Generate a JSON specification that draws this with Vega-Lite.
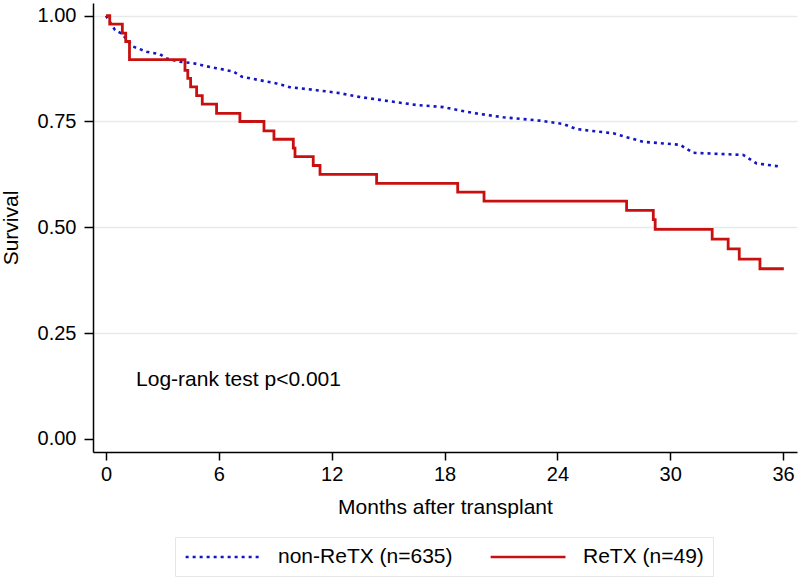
{
  "$schema": "https://vega.github.io/schema/vega-lite/v6.json",
  "width": 704,
  "height": 449,
  "autosize": {"type": "none"},
  "padding": {"left": 93, "top": 3, "right": 3, "bottom": 128},
  "background": "white",
  "datasets": {
    "km": [
      {"group": "non-ReTX (n=635)", "month": 0, "survival": 1.0},
      {"group": "non-ReTX (n=635)", "month": 0.48, "survival": 0.966},
      {"group": "non-ReTX (n=635)", "month": 0.83, "survival": 0.958},
      {"group": "non-ReTX (n=635)", "month": 1.19, "survival": 0.939},
      {"group": "non-ReTX (n=635)", "month": 1.45, "survival": 0.927},
      {"group": "non-ReTX (n=635)", "month": 2.16, "survival": 0.915},
      {"group": "non-ReTX (n=635)", "month": 2.87, "survival": 0.909},
      {"group": "non-ReTX (n=635)", "month": 3.23, "survival": 0.899},
      {"group": "non-ReTX (n=635)", "month": 3.93, "survival": 0.891},
      {"group": "non-ReTX (n=635)", "month": 4.64, "survival": 0.888},
      {"group": "non-ReTX (n=635)", "month": 5.17, "survival": 0.882},
      {"group": "non-ReTX (n=635)", "month": 5.88, "survival": 0.876},
      {"group": "non-ReTX (n=635)", "month": 6.77, "survival": 0.868},
      {"group": "non-ReTX (n=635)", "month": 7.21, "survival": 0.856},
      {"group": "non-ReTX (n=635)", "month": 8.36, "survival": 0.846},
      {"group": "non-ReTX (n=635)", "month": 9.07, "survival": 0.840},
      {"group": "non-ReTX (n=635)", "month": 9.78, "survival": 0.831},
      {"group": "non-ReTX (n=635)", "month": 11.2, "survival": 0.824},
      {"group": "non-ReTX (n=635)", "month": 12.44, "survival": 0.817},
      {"group": "non-ReTX (n=635)", "month": 13.33, "survival": 0.809},
      {"group": "non-ReTX (n=635)", "month": 14.57, "survival": 0.801},
      {"group": "non-ReTX (n=635)", "month": 16.52, "survival": 0.789},
      {"group": "non-ReTX (n=635)", "month": 17.93, "survival": 0.784},
      {"group": "non-ReTX (n=635)", "month": 18.82, "survival": 0.776},
      {"group": "non-ReTX (n=635)", "month": 19.71, "survival": 0.769},
      {"group": "non-ReTX (n=635)", "month": 21.12, "survival": 0.760},
      {"group": "non-ReTX (n=635)", "month": 23.07, "survival": 0.752},
      {"group": "non-ReTX (n=635)", "month": 24.31, "survival": 0.744},
      {"group": "non-ReTX (n=635)", "month": 25.02, "survival": 0.732},
      {"group": "non-ReTX (n=635)", "month": 26.97, "survival": 0.722},
      {"group": "non-ReTX (n=635)", "month": 27.68, "survival": 0.713},
      {"group": "non-ReTX (n=635)", "month": 28.57, "survival": 0.702},
      {"group": "non-ReTX (n=635)", "month": 30.52, "survival": 0.695},
      {"group": "non-ReTX (n=635)", "month": 31.22, "survival": 0.676},
      {"group": "non-ReTX (n=635)", "month": 33.88, "survival": 0.671},
      {"group": "non-ReTX (n=635)", "month": 34.59, "survival": 0.651},
      {"group": "non-ReTX (n=635)", "month": 35.92, "survival": 0.643},
      {"group": "ReTX (n=49)", "month": 0, "survival": 1.0},
      {"group": "ReTX (n=49)", "month": 0.2, "survival": 0.980},
      {"group": "ReTX (n=49)", "month": 0.87, "survival": 0.959},
      {"group": "ReTX (n=49)", "month": 1.05, "survival": 0.939},
      {"group": "ReTX (n=49)", "month": 1.25, "survival": 0.896},
      {"group": "ReTX (n=49)", "month": 4.2, "survival": 0.871},
      {"group": "ReTX (n=49)", "month": 4.35, "survival": 0.852},
      {"group": "ReTX (n=49)", "month": 4.5, "survival": 0.832},
      {"group": "ReTX (n=49)", "month": 4.82, "survival": 0.811},
      {"group": "ReTX (n=49)", "month": 5.12, "survival": 0.791},
      {"group": "ReTX (n=49)", "month": 5.88, "survival": 0.769},
      {"group": "ReTX (n=49)", "month": 7.12, "survival": 0.750},
      {"group": "ReTX (n=49)", "month": 8.40, "survival": 0.728},
      {"group": "ReTX (n=49)", "month": 8.93, "survival": 0.708},
      {"group": "ReTX (n=49)", "month": 9.96, "survival": 0.687},
      {"group": "ReTX (n=49)", "month": 10.05, "survival": 0.667},
      {"group": "ReTX (n=49)", "month": 11.02, "survival": 0.646},
      {"group": "ReTX (n=49)", "month": 11.38, "survival": 0.625},
      {"group": "ReTX (n=49)", "month": 14.39, "survival": 0.604},
      {"group": "ReTX (n=49)", "month": 18.7, "survival": 0.583},
      {"group": "ReTX (n=49)", "month": 20.1, "survival": 0.562},
      {"group": "ReTX (n=49)", "month": 27.68, "survival": 0.540},
      {"group": "ReTX (n=49)", "month": 29.1, "survival": 0.518},
      {"group": "ReTX (n=49)", "month": 29.2, "survival": 0.495},
      {"group": "ReTX (n=49)", "month": 32.23, "survival": 0.472},
      {"group": "ReTX (n=49)", "month": 33.08, "survival": 0.449},
      {"group": "ReTX (n=49)", "month": 33.67, "survival": 0.425},
      {"group": "ReTX (n=49)", "month": 34.77, "survival": 0.402},
      {"group": "ReTX (n=49)", "month": 36.04, "survival": 0.402}
    ],
    "note": [
      {"month": 1.6, "survival": 0.138, "label": "Log-rank test p<0.001"}
    ]
  },
  "config": {
    "view": {"stroke": null},
    "font": "Liberation Sans",
    "axis": {
      "domainColor": "#000000",
      "domainWidth": 1.5,
      "tickColor": "#000000",
      "tickWidth": 1.5,
      "labelColor": "#000000",
      "titleColor": "#000000",
      "labelFont": "Liberation Sans",
      "titleFont": "Liberation Sans",
      "labelFontSize": 20,
      "titleFontSize": 21,
      "titleFontWeight": "normal"
    },
    "legend": {
      "labelFont": "Liberation Sans",
      "labelFontSize": 21,
      "labelColor": "#000000",
      "labelLimit": 400
    }
  },
  "encoding": {
    "x": {
      "field": "month",
      "type": "quantitative",
      "scale": {"domain": [-0.69, 36.74], "nice": false, "zero": false},
      "axis": {
        "values": [0, 6, 12, 18, 24, 30, 36],
        "format": "d",
        "title": "Months after transplant",
        "tickSize": 8,
        "labelPadding": 4,
        "titlePadding": 12,
        "grid": false,
        "labelFlush": false
      }
    },
    "y": {
      "field": "survival",
      "type": "quantitative",
      "scale": {"domain": [-0.031, 1.03], "nice": false, "zero": false},
      "axis": {
        "values": [0, 0.25, 0.5, 0.75, 1],
        "format": ".2f",
        "title": "Survival",
        "tickSize": 9,
        "labelPadding": 8,
        "titlePadding": 16,
        "grid": true,
        "gridColor": "#e6eaec",
        "gridWidth": 1.5,
        "gridOpacity": {"condition": {"test": "datum.value === 0", "value": 0}, "value": 1},
        "labelFlush": false
      }
    }
  },
  "layer": [
    {
      "data": {"name": "km"},
      "transform": [{"filter": "datum.group === 'non-ReTX (n=635)'"}],
      "mark": {"type": "line", "strokeWidth": 2.6, "interpolate": "linear", "strokeCap": "butt"},
      "encoding": {
        "color": {
          "field": "group",
          "type": "nominal",
          "scale": {"domain": ["non-ReTX (n=635)", "ReTX (n=49)"], "range": ["#1515c8", "#c81010"]},
          "legend": {
            "title": null,
            "orient": "none",
            "legendX": 82,
            "legendY": 534,
            "direction": "horizontal",
            "strokeColor": "#e3e7e9",
            "padding": 9,
            "symbolType": "M-1,0H7",
            "symbolSize": 350,
            "symbolStrokeWidth": 2.6,
            "labelOffset": 72,
            "labelLimit": 400,
            "columnPadding": 32
          }
        },
        "strokeDash": {
          "field": "group",
          "type": "nominal",
          "scale": {"domain": ["non-ReTX (n=635)", "ReTX (n=49)"], "range": [[3, 4], [1, 0]]},
          "legend": {
            "title": null,
            "orient": "none",
            "legendX": 82,
            "legendY": 534,
            "direction": "horizontal",
            "strokeColor": "#e3e7e9",
            "padding": 9,
            "symbolType": "M-1,0H7",
            "symbolSize": 350,
            "symbolStrokeWidth": 2.6,
            "labelOffset": 72,
            "labelLimit": 400,
            "columnPadding": 32
          }
        }
      }
    },
    {
      "data": {"name": "km"},
      "transform": [{"filter": "datum.group === 'ReTX (n=49)'"}],
      "mark": {"type": "line", "strokeWidth": 2.8, "interpolate": "step-after"},
      "encoding": {
        "color": {"field": "group", "type": "nominal"},
        "strokeDash": {"field": "group", "type": "nominal"}
      }
    },
    {
      "data": {"name": "note"},
      "mark": {"type": "text", "align": "left", "baseline": "middle", "fontSize": 21, "font": "Liberation Sans", "color": "#000000"},
      "encoding": {
        "text": {"field": "label", "type": "nominal"}
      }
    }
  ]
}
